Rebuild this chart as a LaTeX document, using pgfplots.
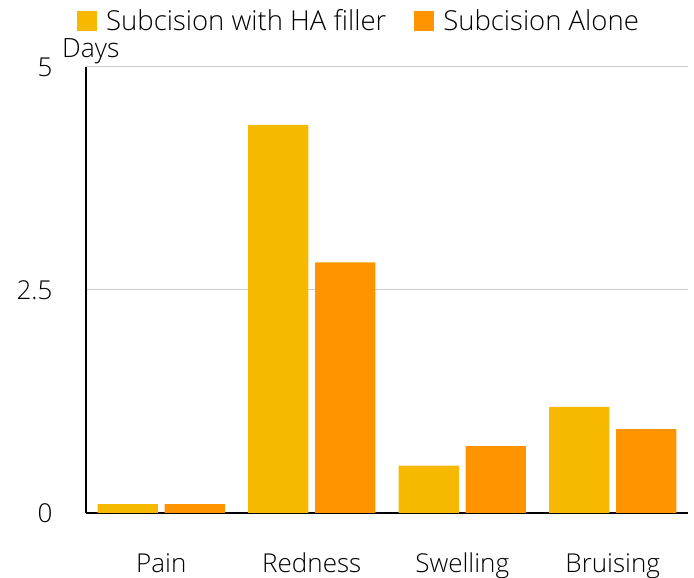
\documentclass[border=0pt]{standalone}
\usepackage{pgfplots}
\pgfplotsset{compat=1.18}
\usepackage{fontspec}
\setmainfont{Open Sans}[UprightFont=* Light]
\definecolor{haY}{RGB}{246,185,0}
\definecolor{alO}{RGB}{255,148,0}
\newcommand{\fs}{\fontsize{26pt}{30pt}\selectfont}
\newcommand{\fl}{\fontsize{27.5pt}{32pt}\selectfont}
\begin{document}
\begin{tikzpicture}[font=\fs]
\useasboundingbox (-86pt,-65pt) rectangle (608pt,513pt);
\begin{axis}[
  at={(0,0)}, anchor=south west,
  scale only axis, width=602pt, height=446pt,
  xmin=-0.5, xmax=3.5, ymin=0, ymax=5,
  ybar, bar width=0.4,
  xtick={0,1,2,3}, xticklabels={Pain,Redness,Swelling,Bruising},
  ytick={0,2.5,5}, yticklabels={0,2.5,5},
  /pgf/number format/assume math mode=true,
  axis x line*=bottom, axis y line*=left,
  axis line style={black, line width=1.6pt, -},
  major tick length=0pt,
  ymajorgrids, grid style={gray!40, line width=1pt},
  yticklabel style={anchor=east, xshift=-30pt, font=\fs},
  xticklabel style={anchor=base, yshift=-60pt, font=\fs},
  legend columns=2,
  legend style={draw=none, inner sep=0pt, at={(-9pt,492pt)}, anchor=west, font=\fl,
    nodes={inner sep=0pt},
    /tikz/every odd column/.append style={column sep=0pt},
    /tikz/every even column/.append style={column sep=28pt}},
  legend image code/.code={\fill[#1] (0pt,-10pt) rectangle (20pt,10pt); \path (29pt,0pt);},
  enlarge x limits=false,
]
\addplot[fill=haY, draw=none, bar shift=-0.222] coordinates {(0,0.10) (1,4.35) (2,0.53) (3,1.19)};
\addplot[fill=alO, draw=none, bar shift=0.222] coordinates {(0,0.10) (1,2.81) (2,0.75) (3,0.94)};
\legend{Subcision with HA filler, Subcision Alone}
\end{axis}
\node[anchor=base west, inner sep=0pt, font=\fontsize{26.5pt}{30pt}\selectfont] at (-24pt, 455pt) {Days};
\end{tikzpicture}
\end{document}
